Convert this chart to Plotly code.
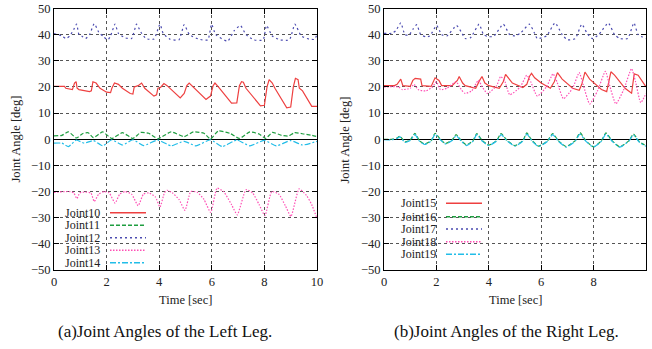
import plotly.graph_objects as go

# ---------------- data ----------------
# Left leg
t10 = [0, 0.4, 0.45, 0.7, 0.78, 0.84, 0.88, 0.95, 1.35, 1.42, 1.48, 1.6, 1.75, 2.0, 2.15, 2.2, 2.3, 2.45, 2.6, 2.9,
       3.0, 3.05, 3.2, 3.33, 3.45, 3.8, 3.9, 3.95, 4.05, 4.18, 4.3, 4.5, 4.8, 4.95, 5.05, 5.14, 5.3, 5.78, 5.85, 5.95,
       6.05, 6.12, 6.25, 6.75, 6.95, 7.05, 7.13, 7.2, 7.3, 7.85, 8.0, 8.1, 8.18, 8.3, 8.4, 8.85, 9.0, 9.1, 9.18, 9.28,
       9.33, 9.45, 9.8, 10]
v10 = [20.2, 20.2, 19.5, 19, 21.5, 22, 19.5, 19, 18.2, 18.5, 22, 21.5, 19.5, 18, 17.8, 19.5, 21.5, 21, 19.5, 17.5,
       17.3, 20, 20.5, 21.5, 19.5, 16.5, 17, 19.5, 19.8, 21.3, 20.5, 18.5, 15.8, 17.5, 20.5, 21.5, 20, 15.2, 15.8, 16.5,
       20.5, 21.5, 20, 13.8, 13.9, 20.5, 22, 21.8, 19.5, 12.8, 13, 20, 22.8, 21.5, 19.5, 12, 12.3, 20, 23.3, 22.8,
       19.5, 18.5, 12.6, 12.6]

t11 = [0, 0.3, 0.55, 0.85, 1.1, 1.3, 1.5, 1.85, 2.2, 2.6, 3.0, 3.3, 3.6, 3.95, 4.45, 4.95, 5.3, 5.7, 5.95, 6.25,
       6.7, 7.05, 7.45, 7.8, 8.05, 8.3, 8.65, 8.9, 9.15, 9.5, 9.8, 10]
v11 = [1.3, 1.5, 2.8, 0.5, 2.2, 2.5, 0.6, 2.8, 0.3, 2.5, 0.3, 2.6, 2.3, 0.2, 2.8, 1.0, 2.8, 2.3, 0.1, 3.2,
       2.2, 0.3, 2.8, 2.0, 0.3, 2.6, 1.5, 1.2, 2.5, 2.0, 1.5, 1.0]

t12 = [0, 0.3, 0.45, 0.6, 0.75, 0.86, 0.95, 1.05, 1.2, 1.35, 1.53, 1.7, 1.9, 2.05, 2.15, 2.32, 2.45, 2.7, 2.95, 3.14,
       3.3, 3.5, 3.8, 4.03, 4.15, 4.4, 4.75, 4.95, 5.15, 5.5, 5.85, 5.99, 6.15, 6.6, 6.85, 7.09, 7.3, 7.6, 7.95, 8.08,
       8.3, 8.6, 8.95, 9.16, 9.4, 9.7, 9.9, 10]
v12 = [40.4, 39.5, 38.5, 39.5, 42, 44, 40, 39.5, 38.5, 40, 44.2, 41, 39, 38, 39.5, 44, 40.5, 38.8, 38.5, 44,
       41, 38.5, 38.3, 44, 40.5, 38.3, 38, 43.8, 40, 38.3, 38, 44, 40, 37.5, 41.5, 43.5, 40, 38, 38, 43.5,
       39.5, 38, 38, 44, 39.5, 38.3, 38.2, 40]

t13 = [0, 0.6, 0.75, 0.87, 0.98, 1.2, 1.4, 1.53, 1.7, 1.9, 2.1, 2.32, 2.5, 2.7, 2.95, 3.2, 3.4, 3.6, 3.85, 4.03,
       4.2, 4.3, 4.5, 4.75, 4.98, 5.2, 5.45, 5.7, 5.96, 6.2, 6.45, 6.75, 6.97, 7.3, 7.55, 7.8, 8.02, 8.28, 8.55, 8.8,
       9.01, 9.32, 9.6, 9.8, 10]
v13 = [-20.3, -20, -20.5, -22.7, -20.5, -20.2, -20.5, -23.8, -21, -20, -20.5, -24.4, -21, -20, -21, -25.4, -21,
       -20.5, -22, -25.9, -20.5, -19.5, -20.5, -23, -27.2, -20, -20.3, -23, -28, -18.7, -20, -25, -28.9, -19.3,
       -20.5, -25, -29.2, -20, -21, -25.5, -29.5, -19, -21.5, -25, -30.3]

t14 = [0, 0.3, 0.55, 0.85, 1.15, 1.5, 1.85, 2.2, 2.6, 3.0, 3.4, 3.95, 4.45, 4.95, 5.4, 5.95, 6.4, 6.95, 7.45, 8.0,
       8.45, 9.0, 9.45, 10]
v14 = [-1.5, -1.5, -2.8, -0.3, -1.5, -0.5, -2.5, -0.2, -2.2, -0.2, -2.4, -0.3, -2.5, -0.8, -2.5, -0.2, -2.8, -0.3,
       -2.5, -0.4, -2.5, -0.5, -2.2, -0.8]

# Right leg
t15 = [0, 0.4, 0.5, 0.64, 0.72, 1.0, 1.1, 1.19, 1.4, 1.45, 1.8, 1.9, 1.95, 2.1, 2.2, 2.6, 2.8, 2.87, 3.0, 3.1,
       3.5, 3.65, 3.74, 3.85, 4.0, 4.4, 4.55, 4.64, 4.75, 4.9, 5.3, 5.45, 5.55, 5.63, 5.75, 6.0, 6.35, 6.5, 6.62,
       6.8, 7.2, 7.45, 7.55, 7.67, 7.85, 8.3, 8.5, 8.66, 8.8, 9.2, 9.45, 9.55, 9.7, 9.85, 10]
v15 = [20.5, 20.5, 21, 23, 20.5, 20.2, 22.5, 23.3, 23, 20.5, 20.2, 22.8, 23.5, 22.5, 20.5, 20.5, 22.5, 24, 21.5,
       20.5, 19.5, 22.5, 24, 21.5, 20.5, 19.5, 22, 24.8, 23.5, 21.5, 19.8, 21, 24, 25.2, 23.5, 21.5, 19.5, 22,
       25.5, 23, 19.5, 18.7, 21, 25.7, 23, 19, 18.2, 25.8, 24.5, 19.5, 17.6, 25, 24.5, 22, 20]

t16 = [0, 0.3, 0.5, 0.61, 0.8, 1.0, 1.18, 1.35, 1.55, 1.8, 1.95, 2.15, 2.35, 2.6, 2.75, 2.95, 3.15, 3.4, 3.54, 3.75,
       4.0, 4.3, 4.47, 4.7, 5.0, 5.3, 5.45, 5.65, 5.9, 6.25, 6.44, 6.65, 6.95, 7.3, 7.48, 7.7, 8.0, 8.3, 8.47, 8.7,
       9.0, 9.35, 9.52, 9.75, 10]
v16 = [0, 0, 0.5, 1.2, -1.0, -0.3, 2.3, -0.5, -1.8, -0.5, 2.3, 0, -1.6, -0.3, 1.8, -0.5, -2.2, -0.5, 2.2, -0.5,
       -2.2, -0.5, 2.2, -0.5, -2.4, -0.5, 2.4, -0.5, -2.6, -0.5, 2.2, -0.5, -2.8, -0.5, 2.5, -0.5, -2.9, -0.5, 2.4,
       -0.5, -2.9, -0.5, 2.0, -1.0, -2.5]

t17 = [0, 0.3, 0.45, 0.64, 0.8, 0.95, 1.1, 1.25, 1.4, 1.6, 1.75, 2.01, 2.2, 2.4, 2.77, 2.95, 3.1, 3.3, 3.63, 3.8,
       4.0, 4.2, 4.55, 4.8, 5.0, 5.2, 5.55, 5.75, 5.85, 6.2, 6.53, 6.8, 7.0, 7.3, 7.55, 7.75, 7.95, 8.2, 8.56, 8.8,
       9.0, 9.3, 9.54, 9.7, 10]
v17 = [40.5, 40.5, 41.5, 44.5, 40, 39.8, 42, 43.8, 40, 39.2, 39.5, 43.5, 40, 39.5, 43.5, 41, 38.5, 38.8, 44, 40,
       39.2, 39.5, 44, 40, 39.5, 40.5, 44, 40.5, 38.5, 39.5, 44.5, 40, 38, 38.5, 44, 40.5, 38.5, 40, 44.5, 40,
       38.5, 38.5, 44.5, 40, 38.5]

t18 = [0, 0.55, 0.7, 1.0, 1.15, 1.3, 1.6, 1.85, 2.0, 2.15, 2.4, 2.75, 2.95, 3.1, 3.35, 3.6, 3.75, 3.95, 4.3, 4.45,
       4.6, 4.8, 5.2, 5.45, 5.6, 5.85, 6.2, 6.45, 6.6, 6.85, 7.2, 7.45, 7.6, 7.85, 8.15, 8.45, 8.6, 8.85, 9.15, 9.45,
       9.6, 9.8, 10]
v18 = [20, 20, 19, 19.5, 21, 19, 18.5, 20, 22, 19, 19.5, 22, 19, 17.5, 18.5, 22.5, 20, 17.5, 20.5, 24,
       22.5, 17, 20, 24.5, 22, 16.5, 20, 25, 22, 15.5, 19.5, 25.5, 21, 13.5, 18.5, 26, 21, 13.5, 19, 27,
       22, 14, 17.5]

t19 = [0, 0.3, 0.5, 0.61, 0.8, 1.0, 1.18, 1.35, 1.55, 1.8, 1.95, 2.15, 2.35, 2.6, 2.75, 2.95, 3.15, 3.4, 3.54, 3.75,
       4.0, 4.3, 4.47, 4.7, 5.0, 5.3, 5.45, 5.65, 5.9, 6.25, 6.44, 6.65, 6.95, 7.3, 7.48, 7.7, 8.0, 8.3, 8.47, 8.7,
       9.0, 9.35, 9.52, 9.75, 10]
v19 = [-0.2, -0.2, 0.3, 0.9, -1.2, -0.5, 1.8, -0.7, -2.0, -0.7, 1.9, -0.2, -1.8, -0.5, 1.4, -0.7, -2.4, -0.7, 1.8,
       -0.7, -2.4, -0.7, 1.8, -0.7, -2.6, -0.7, 2.0, -0.7, -2.8, -0.7, 1.8, -0.7, -3.0, -0.7, 2.0, -0.7, -3.0, -0.7,
       2.0, -0.7, -3.0, -0.7, 1.6, -1.2, -2.7]

x_ticks = [0, 2, 4, 6, 8, 10]
y_ticks = [-50, -40, -30, -20, -10, 0, 10, 20, 30, 40, 50]

# ---------------- styles ----------------
RED = "#ee4040"
GREEN = "#1f9e40"
BLUE = "#4a4ab0"
PINK = "#ff4fb5"
CYAN = "#22bde8"
FONT = "Liberation Serif, Times New Roman, serif"

DASH = "4px,2px"
DOT = "2px,3px"
FINEDOT = "1.5px,1.5px"
DASHDOT = "6px,2px,2px,2px"

left = [
    ("Joint10", t10, v10, RED, "solid", "linear"),
    ("Joint11", t11, v11, GREEN, DASH, "spline"),
    ("Joint12", t12, v12, BLUE, DOT, "spline"),
    ("Joint13", t13, v13, PINK, FINEDOT, "spline"),
    ("Joint14", t14, v14, CYAN, DASHDOT, "spline"),
]
right = [
    ("Joint15", t15, v15, RED, "solid", "linear"),
    ("Joint16", t16, v16, GREEN, DASH, "spline"),
    ("Joint17", t17, v17, BLUE, DOT, "spline"),
    ("Joint18", t18, v18, PINK, FINEDOT, "spline"),
    ("Joint19", t19, v19, CYAN, DASHDOT, "spline"),
]

W, H = 652, 349
fig = go.Figure()

for series, xa, ya in [(left, "x", "y"), (right, "x2", "y2")]:
    for name, t, v, col, dash, shape in series:
        fig.add_trace(go.Scatter(
            x=t, y=v, mode="lines", name=name, xaxis=xa, yaxis=ya, showlegend=False,
            line=dict(color=col, width=1.2, dash=dash, shape=shape, smoothing=0.5),
        ))

axis_common = dict(
    showline=True, linecolor="black", linewidth=1, mirror="allticks",
    ticks="inside", ticklen=5, tickcolor="black", tickwidth=1,
    showgrid=True, gridcolor="#555555", griddash="dot", gridwidth=1,
    tickfont=dict(family=FONT, size=12.5, color="#222"),
    automargin=False,
)


def px2paper_x(px):
    return px / W


def px2paper_y(py):
    return 1 - py / H


ydom = [px2paper_y(270), px2paper_y(8.5)]
fig.update_layout(
    width=W, height=H,
    margin=dict(l=0, r=0, t=0, b=0),
    paper_bgcolor="white", plot_bgcolor="white",
    font=dict(family=FONT, size=13, color="#222"),
    xaxis=dict(domain=[px2paper_x(54), px2paper_x(317)], range=[0, 10], tickvals=x_ticks,
               zeroline=False, anchor="y", **axis_common),
    yaxis=dict(domain=ydom, range=[-50, 50], tickvals=y_ticks, anchor="x",
               zeroline=True, zerolinecolor="black", zerolinewidth=1, **axis_common),
    xaxis2=dict(domain=[px2paper_x(384), px2paper_x(646)], range=[0, 10], tickvals=x_ticks,
                zeroline=False, anchor="y2", **axis_common),
    yaxis2=dict(domain=ydom, range=[-50, 50], tickvals=y_ticks, anchor="x2",
                zeroline=True, zerolinecolor="black", zerolinewidth=1, **axis_common),
)

annotations = []
shapes = []

# axis titles
for cx in [(54 + 317) / 2, (384 + 646) / 2]:
    annotations.append(dict(text="Time [sec]", x=px2paper_x(cx), y=px2paper_y(300), xref="paper", yref="paper",
                            xanchor="center", yanchor="middle", showarrow=False,
                            font=dict(family=FONT, size=12.5, color="#222")))
for cx in [15, 344]:
    annotations.append(dict(text="Joint Angle [deg]", x=px2paper_x(cx), y=px2paper_y(139.5), xref="paper",
                            yref="paper", xanchor="center", yanchor="middle", showarrow=False, textangle=-90,
                            font=dict(family=FONT, size=12.5, color="#222")))

# captions
annotations.append(dict(text="(a)Joint Angles of the Left Leg.", x=px2paper_x(165), y=px2paper_y(331),
                        xref="paper", yref="paper", xanchor="center", yanchor="middle", showarrow=False,
                        font=dict(family=FONT, size=17, color="#111")))
annotations.append(dict(text="(b)Joint Angles of the Right Leg.", x=px2paper_x(506), y=px2paper_y(331),
                        xref="paper", yref="paper", xanchor="center", yanchor="middle", showarrow=False,
                        font=dict(family=FONT, size=17, color="#111")))


# gnuplot-style keys: label right-aligned, then line sample
def key(series, text_right, x0, x1, rows):
    for (name, t, v, col, dash, shape), ry in zip(series, rows):
        annotations.append(dict(text=name, x=px2paper_x(text_right), y=px2paper_y(ry), xref="paper", yref="paper",
                                xanchor="right", yanchor="middle", showarrow=False, borderpad=0,
                                font=dict(family=FONT, size=12, color="#222")))
        shapes.append(dict(type="line", xref="paper", yref="paper", x0=px2paper_x(x0), x1=px2paper_x(x1),
                           y0=px2paper_y(ry), y1=px2paper_y(ry), line=dict(color=col, width=1.6, dash=dash)))


key(left, 101, 110, 146, [212.7, 225.3, 237.7, 250.3, 262.7])
key(right, 437, 446, 482, [203.3, 216.7, 229.0, 241.7, 254.3])

fig.update_layout(annotations=annotations, shapes=shapes)
fig.write_html("out.html", config={"displayModeBar": False},
               post_script="document.body.style.margin='0';document.body.style.overflow='hidden';")
